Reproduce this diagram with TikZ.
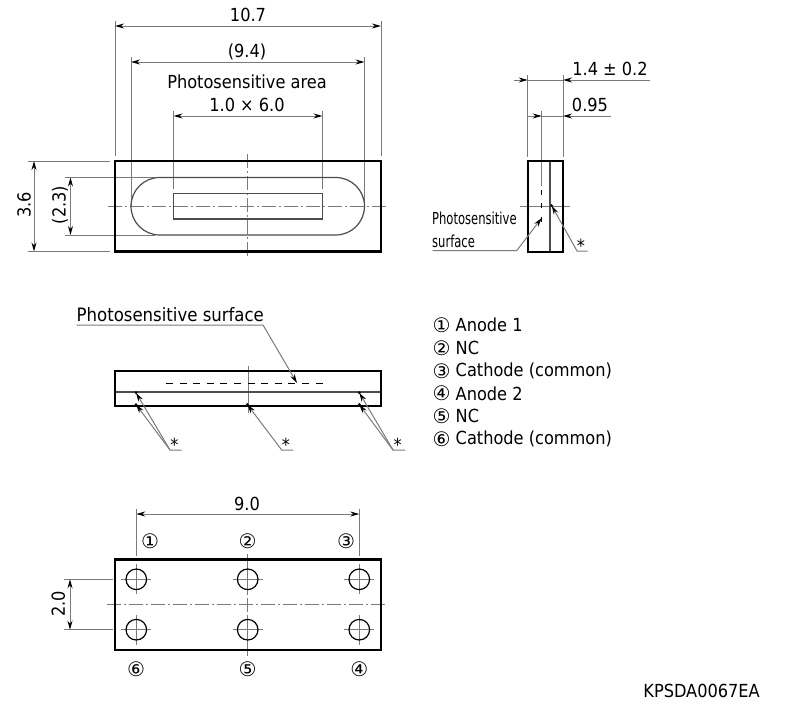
\documentclass[tikz,border=0pt]{standalone}
\usepackage{fontspec}
\usetikzlibrary{arrows.meta}
\setmainfont{DejaVu Sans Condensed}
\newfontfamily\symfont{DejaVu Sans}
\tikzset{
  x=1pt,y=-1pt,
  thinline/.style={draw=black!52,line width=1pt},
  dimline/.style={thinline,{Stealth[length=9pt,width=5pt,black]}-{Stealth[length=9pt,width=5pt,black]}},
  leader/.style={thinline,-{Stealth[length=9pt,width=5pt,black]}},
  body/.style={draw=black,line width=2.4pt},
  inner/.style={draw=black!70,line width=1.2pt},
  centerline/.style={thinline,dash pattern=on 14pt off 3pt on 2pt off 3pt},
  hidden/.style={draw=black,line width=1pt,dash pattern=on 7pt off 6.6pt},
  lbl/.style={font=\fontsize{18}{20}\selectfont,inner sep=0pt},
  narrowlbl/.style={font=\fontsize{16.5}{18}\selectfont,inner sep=0pt,anchor=west,xscale=0.78},
  pin/.style={font=\symfont\fontsize{20}{22}\selectfont,inner sep=0pt},
  starlbl/.style={font=\fontsize{18}{18}\selectfont,inner sep=0pt},
  tipdot/.style={fill=black,draw=none,circle,minimum size=3pt,inner sep=0pt},
}
\begin{document}
\begin{tikzpicture}
\useasboundingbox (0,0) rectangle (793,720);
% ---------- top view
\draw[thinline] (115,21) -- (115,156) (381,21) -- (381,156);
\draw[thinline] (131,57) -- (131,206) (364.5,57) -- (364.5,206);
\draw[thinline] (173.5,111) -- (173.5,189) (322.5,111) -- (322.5,189);
\draw[thinline] (28,161) -- (110,161) (28,251.5) -- (110,251.5);
\draw[thinline] (65,177.5) -- (155,177.5) (65,235) -- (155,235);
\draw[dimline] (115,26) -- (381,26);
\draw[dimline] (131,62) -- (364.5,62);
\draw[dimline] (173.5,116) -- (322.5,116);
\draw[dimline] (34,161) -- (34,251.5);
\draw[dimline] (70.5,177.5) -- (70.5,235);
\draw[centerline] (108,206) -- (388,206);
\draw[centerline] (247.5,154) -- (247.5,259);
\draw[inner,rounded corners=28.7pt] (131,177.5) rectangle (364.5,235);
\draw[inner] (173.5,193.5) rectangle (322.5,219);
\draw[body] (115,161) rectangle (381,251.5);
\node[lbl] (t107) at (248,15) {10.7};
\node[lbl] (t94) at (247,52) {(9.4)};
\node[lbl] (tarea) at (247,82) {Photosensitive area};
\node[lbl] (t10) at (247,105) {1.0 × 6.0};
\node[lbl,rotate=90] (t36) at (24,205) {3.6};
\node[lbl,rotate=90] (t23) at (60,205) {(2.3)};
% ---------- side view
\draw[thinline] (527.7,75) -- (527.7,157) (563,75) -- (563,157);
\draw[thinline] (541.7,111) -- (541.7,186);
\draw[thinline] (520,206) -- (570,206);
\draw[thinline,-{Stealth[length=9pt,width=5pt,black]}] (514,80) -- (527.7,80);
\draw[thinline] (527.7,80) -- (563,80);
\draw[thinline,-{Stealth[length=9pt,width=5pt,black]}] (650,80) -- (563,80);
\draw[thinline,-{Stealth[length=9pt,width=5pt,black]}] (527.7,116) -- (541.7,116);
\draw[thinline,-{Stealth[length=9pt,width=5pt,black]}] (611,116) -- (563,116);
\draw[thinline] (541.7,116) -- (563,116);
\draw[inner] (550,161) -- (550,252);
\draw[draw=black,line width=1pt] (541.7,190) -- (541.7,195) (541.7,203) -- (541.7,208) (541.7,217) -- (541.7,222);
\draw[body] (527.7,161) rectangle (563,252);
\node[lbl] (t14) at (610,69) {1.4 ± 0.2};
\node[lbl] (t095) at (590,105) {0.95};
\node[narrowlbl] (tps1) at (432,218) {Photosensitive};
\node[narrowlbl] (tps2) at (432,241) {surface};
\draw[leader] (432.7,250.7) -- (516.7,250.7) -- (541.7,218);
\draw[leader] (587.7,251) -- (577,251) -- (551.7,205.7);
\node[tipdot] at (551.5,205.7) {};
\node[starlbl] (s0) at (581,246) {*};
% ---------- front view
\draw[thinline] (248,365.7) -- (248,413);
\draw[inner] (115,392) -- (381,392);
\draw[hidden] (166,383.7) -- (329,383.7);
\draw[body] (115,371) rectangle (381,405.7);
\node[font=\fontsize{18.4}{20}\selectfont,inner sep=0pt,anchor=west] (tsurf) at (76.5,314.5) {Photosensitive surface};
\draw[leader] (76.7,325) -- (263,325) -- (297,383);
\draw[leader] (181.7,450) -- (170,450) -- (136,392.7);
\draw[leader] (170,450) -- (136,404.5);
\draw[leader] (293,450) -- (281.7,450) -- (247.3,404.5);
\draw[leader] (405,450) -- (393,450) -- (359.3,392.7);
\draw[leader] (393,450) -- (359.3,404.5);
\foreach \p in {(136,392.7),(136,404.5),(247.3,404.5),(359.3,392.7),(359.3,404.5)}
  \node[tipdot] at \p {};
\node[starlbl] (s1) at (174.3,445) {*};
\node[starlbl] (s2) at (286,445) {*};
\node[starlbl] (s3) at (397.7,445) {*};
% ---------- pin list
\foreach \y/\c/\t in {325/①/Anode 1,348/②/NC,371/③/Cathode (common),393.5/④/Anode 2,416/⑤/NC,439/⑥/Cathode (common)}{
  \node[pin] at (441.7,\y) {\c};
  \node[lbl,anchor=west] at (455.5,\y) {\t};
}
% ---------- bottom view
\draw[thinline] (136.3,509) -- (136.3,556) (359.3,509) -- (359.3,556);
\draw[dimline] (136.3,514) -- (359.3,514);
\draw[thinline] (64,579.3) -- (113,579.3) (64,629.7) -- (113,629.7);
\draw[dimline] (70,579.3) -- (70,629.7);
\draw[centerline] (107,604.7) -- (388,604.7);
\draw[centerline] (247.7,554) -- (247.7,656);
\foreach \x in {136.3,247.7,359.3} \foreach \y in {579.3,629.7}{
  \draw[thinline] (\x-15,\y) -- (\x+15,\y) (\x,\y-15) -- (\x,\y+15);
  \draw[draw=black,line width=1.2pt] (\x,\y) circle[radius=10.3];
}
\draw[body] (115,559.3) rectangle (381,650);
\node[lbl] (t90) at (247,504) {9.0};
\node[lbl,rotate=90] (t20) at (58.3,604) {2.0};
\node[pin] (p1) at (150,541.7) {①};
\node[pin] (p2) at (247.7,541.7) {②};
\node[pin] (p3) at (346,541.7) {③};
\node[pin] (p6) at (136,669) {⑥};
\node[pin] (p5) at (247.7,669) {⑤};
\node[pin] (p4) at (359.3,669) {④};
\node[font=\fontsize{18}{18}\selectfont,inner sep=0pt,anchor=east] (code) at (760,691) {KPSDA0067EA};
\end{tikzpicture}
\end{document}
